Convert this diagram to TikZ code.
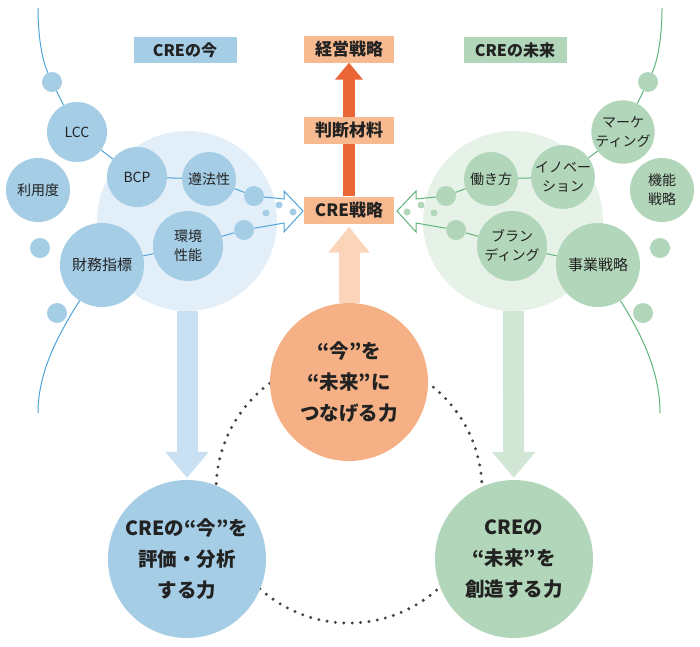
\documentclass[tikz,border=0pt]{standalone}
\usepackage{fontspec}
\setmainfont{Noto Sans CJK JP}
\usetikzlibrary{arrows.meta}
\definecolor{ink}{HTML}{222222}
\definecolor{nowblue}{HTML}{A5CDE6}
\definecolor{nowpale}{HTML}{E3EFF8}
\definecolor{nowstemc}{HTML}{C8E0F1}
\definecolor{nowedge}{HTML}{4FA3D6}
\definecolor{futgreen}{HTML}{B2D6B9}
\definecolor{futpale}{HTML}{E6F1E8}
\definecolor{futstemc}{HTML}{D2E6D5}
\definecolor{futedge}{HTML}{5FB47A}
\definecolor{linkorange}{HTML}{F5B185}
\definecolor{boxpeach}{HTML}{F7B98F}
\definecolor{arrred}{HTML}{E96535}
\definecolor{arrpeach}{HTML}{FAD5B9}
\definecolor{dotgray}{HTML}{444444}

\begin{document}
\begin{tikzpicture}[x=1pt,y=-1pt]
\tikzstyle{bub}=[circle,inner sep=0pt,minimum size=#1,align=center,text=ink,font=\fontsize{14}{19}\selectfont]
\tikzstyle{nowbub}=[bub=#1,fill=nowblue]
\tikzstyle{futbub}=[bub=#1,fill=futgreen]
\tikzstyle{nowlink}=[draw=nowedge,line width=1pt,line join=miter]
\tikzstyle{futlink}=[draw=futedge,line width=1pt,line join=miter]
\tikzstyle{box}=[rectangle,fill=boxpeach,minimum width=90pt,minimum height=27pt,inner sep=0pt,text=ink,font=\fontsize{17}{18}\selectfont\bfseries]
\tikzstyle{tag}=[rectangle,minimum width=103pt,minimum height=26pt,inner sep=0pt,text=ink,font=\fontsize{16}{18}\selectfont\bfseries]
\tikzstyle{power}=[circle,minimum size=158pt,inner sep=0pt,align=center,text=ink,font=\fontsize{19.5}{31}\selectfont\bfseries]
\tikzstyle{stem}=[line width=21pt,-{Triangle[width=42pt,length=26pt]},shorten >=2pt]
\useasboundingbox (0,0) rectangle (700,646);

\node[tag,fill=nowblue](nowlab) at (185,50) {CREの今};
\node[tag,fill=futgreen](futlab) at (515,50) {CREの未来};

\node[circle,fill=nowpale,minimum size=180pt](nowbg) at (187,221) {};
\node[circle,fill=futpale,minimum size=180pt](futbg) at (513,221) {};

\draw[dotgray,line width=3.3pt,line cap=round,dash pattern=on 0pt off 8.4pt] (349,490) circle[radius=133pt];

\node[power,fill=nowblue](nowpow) at (187,559) {CREの“今”を\\評価・分析\\する力};
\node[power,fill=futgreen](futpow) at (514,559) {CREの\\“未来”を\\創造する力};
\draw[stem,nowstemc] (nowbg) -- (nowpow);
\draw[stem,futstemc] (futbg) -- (futpow);

\node[box](keiei) at (349,49) {経営戦略};
\node[box](crest) at (349,210) {CRE戦略};
\draw[arrred,line width=12pt,-{Triangle[width=27pt,length=17pt]}] (crest) -- (keiei);
\node[box](handan) at (349,130.5) {判断材料};

\node[power,fill=linkorange](link) at (349,382) {“今”を\\“未来”に\\つなげる力};
\draw[arrpeach,line width=21pt,-{Triangle[width=40pt,length=26pt]},shorten >=3pt] (link) -- (crest);

% CREの今
\node[nowbub=20pt](ld1) at (52,82) {};
\node[nowbub=60pt](lcc) at (77,132) {LCC};
\node[nowbub=64pt](riyo) at (38,190) {利用度};
\node[nowbub=60pt](bcp) at (137,177) {BCP};
\node[nowbub=54pt](junpo) at (209,179) {遵法性};
\node[nowbub=20pt](ld2) at (254,196) {};
\node[nowbub=20pt](ld3) at (40,248) {};
\node[nowbub=84pt,font=\fontsize{15}{19}\selectfont](zaimu) at (102,265) {財務指標};
\node[nowbub=70pt](kankyo) at (188,246) {環境\\性能};
\node[nowbub=20pt](ld4) at (244,230) {};
\node[nowbub=20pt](ld5) at (57,313) {};
\node[nowbub=7pt](lp1) at (266,213) {};
\node[nowbub=7pt](lp2) at (279,205) {};
\node[nowbub=7pt](lp3) at (293,212) {};
\coordinate (ltop) at (38,8);
\coordinate (lbot) at (38,413);
\coordinate (la1) at (284,199);
\coordinate (la2) at (284,191);
\coordinate (la3) at (303,211);
\coordinate (la4) at (284,232);
\coordinate (la5) at (284,223);
\draw[nowlink] (ltop) .. controls (38,40) and (43,62) .. (ld1) -- (lcc) -- (bcp) -- (junpo) -- (ld2) -- (la1) -- (la2) -- (la3) -- (la4) -- (la5) -- (ld4) -- (kankyo) -- (zaimu);
\draw[nowlink] (zaimu) .. controls (58,335) and (38,372) .. (lbot);

% CREの未来
\node[futbub=20pt](rd1) at (648,82) {};
\node[futbub=60pt](mkt) at (623,132) {マーケ\\ティング};
\node[futbub=64pt](kino) at (662,190) {機能\\戦略};
\node[futbub=60pt](inov) at (563,177) {イノベー\\ション};
\node[futbub=54pt](hataraki) at (491,179) {働き方};
\node[futbub=20pt](rd2) at (446,196) {};
\node[futbub=20pt](rd3) at (660,248) {};
\node[futbub=84pt,font=\fontsize{15}{19}\selectfont](jigyo) at (598,265) {事業戦略};
\node[futbub=70pt](brand) at (512,246) {ブラン\\ディング};
\node[futbub=20pt](rd4) at (456,230) {};
\node[futbub=20pt](rd5) at (643,313) {};
\node[futbub=7pt](rp1) at (434,213) {};
\node[futbub=7pt](rp2) at (421,205) {};
\node[futbub=7pt](rp3) at (407,212) {};
\coordinate (rtop) at (662,8);
\coordinate (rbot) at (660,413);
\coordinate (ra1) at (416,199);
\coordinate (ra2) at (416,191);
\coordinate (ra3) at (397,211);
\coordinate (ra4) at (416,232);
\coordinate (ra5) at (416,223);
\draw[futlink] (rtop) .. controls (662,40) and (657,62) .. (rd1) -- (mkt) -- (inov) -- (hataraki) -- (rd2) -- (ra1) -- (ra2) -- (ra3) -- (ra4) -- (ra5) -- (rd4) -- (brand) -- (jigyo);
\draw[futlink] (jigyo) .. controls (642,335) and (660,372) .. (rbot);
\end{tikzpicture}
\end{document}
